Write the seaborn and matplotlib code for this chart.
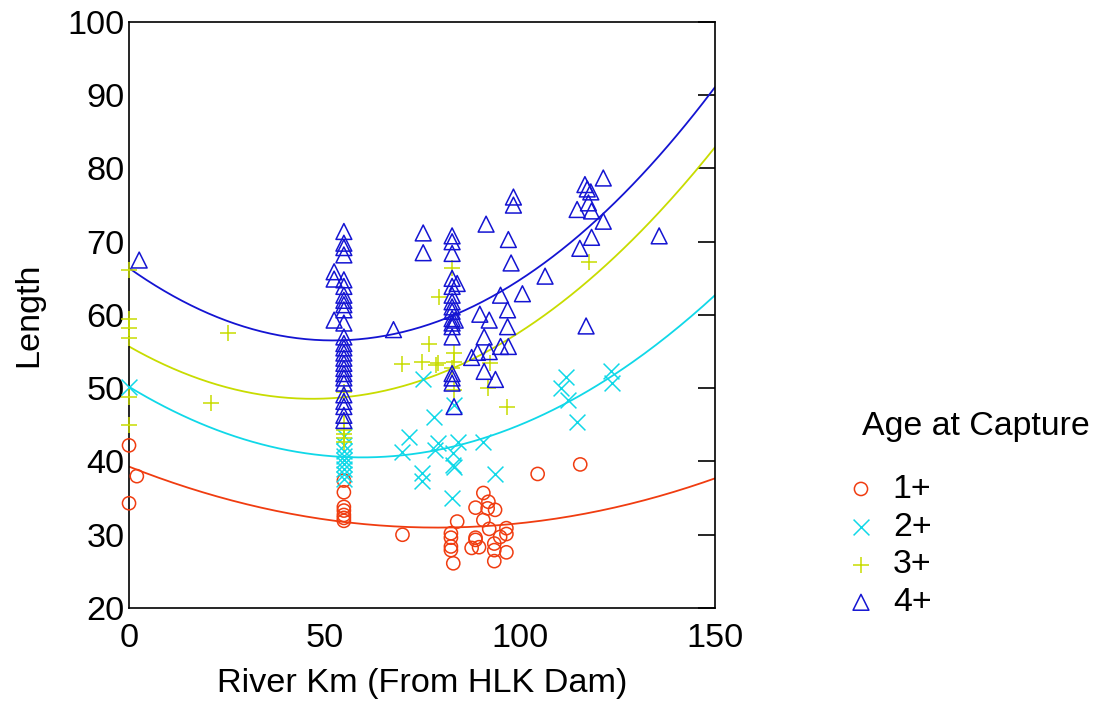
import numpy as np
import pandas as pd
import matplotlib
matplotlib.use("Agg")
import matplotlib.pyplot as plt
import seaborn as sns

# --- data ---
ages = ["1+", "2+", "3+", "4+"]

x_1 = [0, 0, 2, 55, 55, 55, 55, 55, 55, 55, 70, 82.4, 82.4, 82.4, 82.4, 83.0, 84.0,
       104.6, 90.7, 92.0, 88.7, 91.8, 93.7, 90.7, 92.2, 96.6, 96.6, 95.0, 88.7, 88.7,
       87.7, 89.6, 93.5, 93.5, 96.6, 93.5, 115.5]
y_1 = [42.2, 34.3, 38.0, 37.4, 35.8, 33.8, 33.3, 32.7, 32.3, 31.9, 30.0, 30.2, 29.6, 28.4,
       27.9, 26.1, 31.8, 38.3, 35.7, 34.5, 33.7, 33.6, 33.4, 32.0, 30.8, 30.9, 30.1,
       29.7, 29.6, 29.3, 28.2, 28.3, 28.8, 27.9, 27.6, 26.4, 39.6]

x_2 = [0, 55, 55, 55, 55, 55, 55, 55, 55, 55, 78.1, 71.7, 70.0, 79.2, 78.3, 84.1, 83.0,
       83.0, 83.3, 75.1, 75.1, 90.7, 93.8, 82.8, 111.8, 110.6, 112.4, 114.7, 123.5,
       123.7, 75.3, 83.2]
y_2 = [50.2, 43.5, 42.2, 41.5, 40.8, 40.2, 39.6, 39.0, 38.3, 37.6, 46.1, 43.3, 41.3, 42.5,
       41.6, 42.7, 41.1, 39.5, 39.2, 38.4, 37.3, 42.7, 38.3, 35.0, 51.5, 50.0, 48.4,
       45.4, 52.3, 50.7, 51.2, 47.7]

x_3 = [0, 0, 0, 0, 0, 0, 25.4, 21.1, 55, 55, 55, 55, 55, 55, 82.6, 79.4, 76.8, 70.0,
       75.1, 79.2, 83.2, 83.2, 82.8, 92.4, 92.0, 83.2, 78.7, 117.8, 96.8]
y_3 = [66.1, 59.4, 58.2, 56.8, 48.8, 45.0, 57.5, 48.0, 49.5, 45.2, 44.3, 43.8, 43.2, 42.6,
       66.4, 62.5, 56.0, 53.3, 53.6, 53.4, 54.8, 53.6, 52.7, 53.5, 50.0, 49.8, 53.2,
       67.2, 47.5]

x_4 = [2.6,
       55, 55, 55, 55, 52.5, 52.5, 55, 55, 55, 55, 55, 55, 52.5, 55, 55, 55, 55, 55,
       55, 55, 55, 55, 55, 55, 55, 55, 55, 55, 55,
       67.7, 75.3, 75.3,
       82.7, 82.7, 82.7, 82.7, 84.0, 82.7, 82.7, 82.7, 82.7, 82.7, 82.7, 83.5, 82.7,
       82.7, 82.7, 82.7, 82.7, 82.7, 83.2,
       98.4, 91.4, 98.4, 97.1, 97.8, 106.5, 115.4, 95.1, 100.7, 89.8, 92.2, 96.9, 96.9,
       90.9, 89.2, 87.7, 92.2, 95.1, 97.1, 90.9, 93.8,
       121.4, 116.7, 117.3, 118.2, 114.7, 117.6, 118.4, 121.4, 118.4, 135.7, 117.0]
y_4 = [67.5,
       71.4, 69.8, 69.2, 68.2, 65.9, 64.9, 64.8, 63.9, 62.7, 62.0, 61.4, 60.7, 59.3,
       58.9, 57.0, 56.1, 55.5, 54.8, 54.1, 53.4, 52.7, 52.0, 51.4, 50.7, 49.1, 48.2,
       47.5, 46.3, 45.6,
       58.0, 71.2, 68.5,
       70.8, 70.0, 68.4, 65.0, 64.3, 63.9, 62.7, 61.8, 61.1, 60.5, 59.5, 59.3, 58.9,
       58.4, 57.0, 52.0, 51.4, 50.7, 47.5,
       75.0, 72.4, 76.1, 70.3, 67.1, 65.3, 69.1, 62.7, 62.9, 60.1, 59.3, 60.7, 58.4,
       57.0, 54.9, 54.2, 55.0, 55.7, 55.7, 52.3, 51.2,
       78.7, 77.8, 77.2, 76.8, 74.4, 75.3, 74.2, 72.8, 70.6, 70.8, 58.5]

# fitted quadratic curves: values read at km 0, 75 and 150
curve_x = [0, 75, 150]
curve_1 = [39.3, 31.0, 37.7]
curve_2 = [50.2, 41.2, 62.7]
curve_3 = [55.7, 51.1, 82.9]
curve_4 = [66.4, 58.4, 91.1]

colors = ["#F03C10", "#10D8E8", "#C8DC00", "#1414D2"]
markers = ["o", "x", "+", "^"]

xs = [x_1, x_2, x_3, x_4]
ys = [y_1, y_2, y_3, y_4]
curves = [curve_1, curve_2, curve_3, curve_4]

sns.set_theme(style="white")
plt.rcParams["font.family"] = ["Liberation Sans", "DejaVu Sans"]
plt.rcParams["text.color"] = "black"

fig = plt.figure(figsize=(10.99, 7.02), dpi=100)
ax = fig.add_axes([0.1174, 0.1339, 0.5332, 0.8348])

grid = np.linspace(0, 150, 200)
for age, x, y, cv, c, m in zip(ages, xs, ys, curves, colors, markers):
    coef = np.polyfit(curve_x, cv, 2)
    line_df = pd.DataFrame({"km": grid, "len": np.polyval(coef, grid)})
    sns.lineplot(data=line_df, x="km", y="len", color=c, lw=1.3, ax=ax, legend=False)

    pts = pd.DataFrame({"km": x, "len": y})
    if m in ("o", "^"):
        sns.scatterplot(data=pts, x="km", y="len", marker=m, s=90 if m == "o" else 130,
                        facecolor="none", edgecolor=c, linewidth=1.1, ax=ax, label=age,
                        clip_on=False, zorder=3)
    else:
        sns.scatterplot(data=pts, x="km", y="len", marker=m, s=130, color=c,
                        linewidth=1.1, ax=ax, label=age, clip_on=False, zorder=3)

ax.set_xlim(0, 150)
ax.set_ylim(20, 100)
ax.set_xticks([0, 50, 100, 150])
ax.set_yticks(range(20, 101, 10))
ax.set_xlabel("River Km (From HLK Dam)", fontsize=24.7, labelpad=10, color="black")
ax.set_ylabel("Length", fontsize=24.7, labelpad=17, color="black")
ax.tick_params(direction="in", length=12, width=1.2, labelsize=24.7, colors="black",
               right=True)
ax.tick_params(axis="y", pad=3)
ax.tick_params(axis="x", pad=11)
for sp in ax.spines.values():
    sp.set_color("black")
    sp.set_linewidth(1.2)

ax.legend(loc="upper left", bbox_to_anchor=(0.768, 0.325),
          bbox_transform=fig.transFigure, frameon=False, fontsize=24.4,
          handletextpad=0.44, labelspacing=0.2, handlelength=1.0,
          borderpad=0, borderaxespad=0)
fig.text(862 / 1099, 1 - 427 / 702, "Age at Capture", ha="left", va="center",
         fontsize=24.4, color="black")

fig.savefig("out.png", dpi=100)
